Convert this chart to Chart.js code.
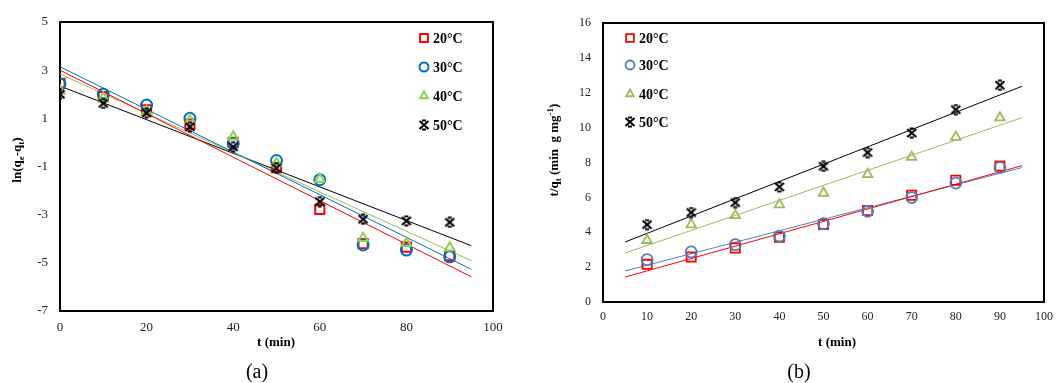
<!DOCTYPE html>
<html>
<head>
<meta charset="utf-8">
<script src="https://cdn.jsdelivr.net/npm/chart.js@4.4.1/dist/chart.umd.min.js"></script>
<style>
  html, body { margin: 0; padding: 0; background: #fff; }
  #wrap { position: relative; width: 1061px; height: 383px; }
  canvas { position: absolute; top: 0; }
  #chartA { left: 0; }
  #chartB { left: 530px; }
</style>
</head>
<body>
<div id="wrap">
  <canvas id="chartA" width="530" height="383"></canvas>
  <canvas id="chartB" width="531" height="383"></canvas>
</div>
<script>
// ---- data (a): ln(qe - qt) vs t
const timeA = [0, 10, 20, 30, 40, 50, 60, 70, 80, 90];
const lnq20 = [2.45, 1.9, 1.35, 0.76, 0.0, -1.05, -2.78, -4.2, -4.35, -4.7];
const lnq30 = [2.43, 2.0, 1.55, 1.0, -0.04, -0.75, -1.55, -4.26, -4.47, -4.75];
const lnq40 = [2.15, 1.84, 1.28, 0.92, 0.24, -0.86, -1.53, -3.98, -4.19, -4.37];
const lnq50 = [2.0, 1.62, 1.22, 0.65, -0.18, -1.07, -2.46, -3.19, -3.26, -3.32];
// trend lines (start, end)
const fitTimeA = [0, 95];
const fitA20 = [3.0, -5.58];
const fitA30 = [3.14, -5.27];
const fitA40 = [2.84, -4.91];
const fitA50 = [2.34, -4.29];
const xTicksA = [0, 20, 40, 60, 80, 100];
const yTicksA = [-7, -5, -3, -1, 1, 3, 5];

// ---- data (b): t/qt vs t
const timeB = [10, 20, 30, 40, 50, 60, 70, 80, 90];
const tq20 = [2.16, 2.58, 3.10, 3.72, 4.45, 5.25, 6.12, 6.98, 7.80];
const tq30 = [2.43, 2.87, 3.29, 3.77, 4.49, 5.20, 5.99, 6.82, 7.71];
const tq40 = [3.54, 4.44, 4.97, 5.58, 6.25, 7.32, 8.31, 9.46, 10.57];
const tq50 = [4.44, 5.13, 5.70, 6.60, 7.78, 8.57, 9.69, 11.03, 12.43];
const fitTimeB = [5, 95];
const fitB20 = [1.43, 7.82];
const fitB30 = [1.78, 7.71];
const fitB40 = [2.81, 10.57];
const fitB50 = [3.44, 12.37];
const xTicksB = [0, 10, 20, 30, 40, 50, 60, 70, 80, 90, 100];
const yTicksB = [0, 2, 4, 6, 8, 10, 12, 14, 16];

const tempLabels = ["20°C", "30°C", "40°C", "50°C"];

const SERIF = '"Liberation Serif", "Times New Roman", serif';

const pts = (xs, ys) => xs.map((x, i) => ({ x: x, y: ys[i] }));

// excel-like star marker: a bold X with short caps top and bottom
function makeStar(size) {
  const c = document.createElement("canvas");
  c.width = size; c.height = size;
  const g = c.getContext("2d");
  g.strokeStyle = "#000";
  g.lineWidth = 2.2;
  const h = size / 2;
  g.beginPath();
  g.moveTo(1.5, 2); g.lineTo(size - 1.5, size - 2);
  g.moveTo(size - 1.5, 2); g.lineTo(1.5, size - 2);
  g.moveTo(h - 2, 1.5); g.lineTo(h + 2, 1.5);
  g.moveTo(h - 2, size - 1.5); g.lineTo(h + 2, size - 1.5);
  g.stroke();
  return c;
}
const starImg = makeStar(12);

function markerSet(label, data, color, style, radius, bw, order) {
  return {
    label: label,
    data: data,
    showLine: false,
    pointStyle: style,
    pointRadius: radius,
    pointHoverRadius: radius,
    pointBorderColor: color,
    pointBackgroundColor: "rgba(0,0,0,0)",
    pointBorderWidth: bw,
    order: order
  };
}
function fitSet(data, color) {
  return {
    label: "",
    data: data,
    showLine: true,
    borderColor: color,
    borderWidth: 1,
    pointRadius: 0,
    pointHoverRadius: 0,
    order: 10
  };
}

// draws text made of normal / sub / sup pieces
function drawRich(ctx, segs, cx, cy, rot, size) {
  const base = "bold " + size + "px " + SERIF;
  const small = "bold " + Math.round(size * 0.7) + "px " + SERIF;
  let total = 0;
  segs.forEach((s) => {
    ctx.font = s.sub || s.sup ? small : base;
    total += ctx.measureText(s.t).width;
  });
  ctx.save();
  ctx.translate(cx, cy);
  ctx.rotate(rot);
  ctx.textBaseline = "middle";
  ctx.textAlign = "left";
  ctx.fillStyle = "#000";
  let x = -total / 2;
  segs.forEach((s) => {
    ctx.font = s.sub || s.sup ? small : base;
    const dy = s.sub ? size * 0.3 : s.sup ? -size * 0.35 : 0;
    ctx.fillText(s.t, x, dy);
    x += ctx.measureText(s.t).width;
  });
  ctx.restore();
}

const decor = {
  id: "decor",
  beforeDatasetsDraw(chart, args, opts) {
    const ctx = chart.ctx, a = chart.chartArea;
    ctx.save();
    ctx.strokeStyle = "#000";
    ctx.lineWidth = 2;
    ctx.strokeRect(a.left, a.top, a.right - a.left, a.bottom - a.top);
    ctx.restore();
  },
  afterDraw(chart, args, opts) {
    const ctx = chart.ctx;
    ctx.save();
    // legend inside the plot
    opts.legend.rows.forEach((y, i) => {
      const ds = chart.data.datasets[i];
      ctx.strokeStyle = ds.pointBorderColor;
      ctx.fillStyle = "rgba(0,0,0,0)";
      ctx.lineWidth = ds.pointBorderWidth;
      Chart.helpers.drawPoint(ctx, {
        pointStyle: ds.pointStyle,
        radius: ds.pointRadius - 1,
        rotation: 0,
        borderWidth: ds.pointBorderWidth
      }, opts.legend.x, y);
      ctx.fillStyle = "#000";
      ctx.font = "bold 14px " + SERIF;
      ctx.textAlign = "left";
      ctx.textBaseline = "middle";
      ctx.fillText(tempLabels[i], opts.legend.x + 9, y + 1);
    });
    drawRich(ctx, opts.xTitle, opts.xTitlePos[0], opts.xTitlePos[1], 0, 13);
    drawRich(ctx, opts.yTitle, opts.yTitlePos[0], opts.yTitlePos[1], -Math.PI / 2, 13);
    ctx.fillStyle = "#000";
    ctx.font = "20px " + SERIF;
    ctx.textAlign = "center";
    ctx.textBaseline = "middle";
    ctx.fillText(opts.panel[0], opts.panel[1], opts.panel[2]);
    ctx.restore();
  }
};

function axis(min, max, ticks, fontSize, fit) {
  return {
    type: "linear",
    min: min,
    max: max,
    afterBuildTicks: (s) => { s.ticks = ticks.map((v) => ({ value: v })); },
    afterFit: fit,
    grid: { display: false, drawTicks: false },
    border: { display: false },
    ticks: {
      padding: 0,
      color: "#222",
      font: { family: SERIF, size: fontSize }
    }
  };
}

// ---- chart (a)
const xA = axis(0, 100, xTicksA, 13, (s) => { s.height = 72; });
xA.ticks.padding = 9;
const yA = axis(-7, 5, yTicksA, 13, (s) => { s.width = 60; });
yA.ticks.padding = 12;

new Chart(document.getElementById("chartA"), {
  type: "scatter",
  data: {
    datasets: [
      markerSet(tempLabels[0], pts(timeA, lnq20), "#FF0000", "rect", 6.5, 2, 4),
      markerSet(tempLabels[1], pts(timeA, lnq30), "#0070C0", "circle", 5.5, 2, 3),
      markerSet(tempLabels[2], pts(timeA, lnq40), "#92D050", "triangle", 5.5, 2, 2),
      markerSet(tempLabels[3], pts(timeA, lnq50), "#000000", starImg, 5.5, 2, 1),
      fitSet(pts(fitTimeA, fitA20), "#FF0000"),
      fitSet(pts(fitTimeA, fitA30), "#0070C0"),
      fitSet(pts(fitTimeA, fitA40), "#9BBB59"),
      fitSet(pts(fitTimeA, fitA50), "#000000")
    ]
  },
  options: {
    responsive: false,
    animation: false,
    layout: { padding: { top: 22, right: 37, left: 0, bottom: 0 } },
    scales: { x: xA, y: yA },
    plugins: {
      legend: { display: false },
      tooltip: { enabled: false },
      decor: {
        legend: { x: 424, rows: [38, 67, 96, 125] },
        xTitle: [{ t: "t (min)" }],
        xTitlePos: [276, 343],
        yTitle: [{ t: "ln(q" }, { t: "e", sub: true }, { t: "-q" }, { t: "t", sub: true }, { t: ")" }],
        yTitlePos: [18, 160],
        panel: ["(a)", 257, 373]
      }
    }
  },
  plugins: [decor]
});

// ---- chart (b)
const xB = axis(0, 100, xTicksB, 12, (s) => { s.height = 81; });
xB.ticks.padding = 8;
const yB = axis(0, 16, yTicksB, 12, (s) => { s.width = 73; });
yB.ticks.padding = 12;

new Chart(document.getElementById("chartB"), {
  type: "scatter",
  data: {
    datasets: [
      markerSet(tempLabels[0], pts(timeB, tq20), "#FF0000", "rect", 6.5, 1.8, 4),
      markerSet(tempLabels[1], pts(timeB, tq30), "#4F81BD", "circle", 5.5, 1.8, 3),
      markerSet(tempLabels[2], pts(timeB, tq40), "#9BBB59", "triangle", 5.5, 1.8, 2),
      markerSet(tempLabels[3], pts(timeB, tq50), "#000000", starImg, 5.5, 1.8, 1),
      fitSet(pts(fitTimeB, fitB20), "#FF0000"),
      fitSet(pts(fitTimeB, fitB30), "#4F81BD"),
      fitSet(pts(fitTimeB, fitB40), "#9BBB59"),
      fitSet(pts(fitTimeB, fitB50), "#000000")
    ]
  },
  options: {
    responsive: false,
    animation: false,
    layout: { padding: { top: 23, right: 12, left: 0, bottom: 0 } },
    scales: { x: xB, y: yB },
    plugins: {
      legend: { display: false },
      tooltip: { enabled: false },
      decor: {
        legend: { x: 100, rows: [38, 65, 94, 122] },
        xTitle: [{ t: "t (min)" }],
        xTitlePos: [307, 343],
        yTitle: [{ t: "t/q" }, { t: "t", sub: true }, { t: " (min  g mg" }, { t: "-1", sup: true }, { t: ")" }],
        yTitlePos: [25, 150],
        panel: ["(b)", 269, 373]
      }
    }
  },
  plugins: [decor]
});
</script>
</body>
</html>
